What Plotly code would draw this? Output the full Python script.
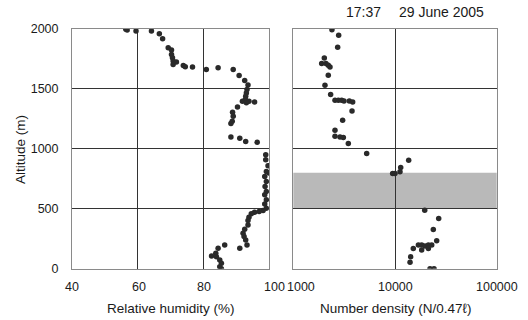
import math
import plotly.graph_objects as go

# Left panel: relative humidity (%) vs altitude (m)
rh_values = [56.4, 56.8, 59.5, 64.2, 66.6, 67.6, 69.3, 70.3, 70.3, 70.6, 70.8, 71.8, 70.8,
             73.9, 74.5, 76.7, 80.9, 84.5, 89.1, 90.9, 92.6, 93.6, 93.3, 93.1, 92.9, 92.8,
             91.9, 93.9, 95.6, 93.1, 90.4, 88.9, 89.1, 88.8, 88.4, 88.4, 91.1, 92.9, 96.4,
             99.0, 99.0, 99.7, 99.2, 100.0, 98.7, 99.2, 98.8, 99.2, 98.7, 99.2, 98.7, 99.2,
             98.2, 97.0, 95.6, 94.6, 93.9, 93.6, 93.6, 92.6, 92.1, 92.4, 92.9, 93.3, 91.1,
             86.5, 84.5, 83.8, 82.5, 84.0, 85.0, 85.5, 85.0, 85.5]
rh_altitude = [1995, 1989, 1981, 1981, 1958, 1917, 1842, 1822, 1786, 1758, 1730, 1722, 1702,
               1694, 1683, 1680, 1660, 1674, 1660, 1610, 1568, 1530, 1493, 1465, 1437, 1410,
               1396, 1396, 1390, 1382, 1348, 1304, 1270, 1229, 1209, 1098, 1087, 1061, 1053,
               950, 908, 858, 811, 797, 769, 727, 685, 644, 616, 574, 540, 504,
               485, 476, 471, 457, 429, 401, 365, 329, 295, 268, 240, 198, 170,
               198, 170, 128, 106, 100, 72, 45, 17, 0]

# Right panel: number density (N/0.47 l) vs altitude (m)
nd_values = [2399, 2793, 2730, 2018, 1901, 2094, 2208, 2296, 2208, 2048, 2329, 2570, 2773,
             2989, 3150, 3554, 3835, 3779, 3055, 2570, 2570, 2878, 3105, 3475, 5265, 9480,
             10000, 11200, 11380, 13630, 19600, 26900, 23800, 25700, 15130, 16980, 18290,
             19720, 21300, 22970, 18290, 21290, 14260, 14060, 22100, 24200]
nd_altitude = [1992, 1945, 1845, 1756, 1709, 1709, 1695, 1681, 1612, 1528, 1451, 1404, 1404,
               1404, 1398, 1398, 1390, 1315, 1237, 1154, 1104, 1098, 1093, 1043, 960, 793,
               793, 807, 843, 904, 488, 419, 327, 233, 169, 197, 197,
               189, 197, 197, 155, 169, 100, 53, 0, 0]

altitude_ticks = [0, 500, 1000, 1500, 2000]
rh_ticks = [40, 60, 80, 100]
rh_tick_labels = ["40", "60", "80", "100"]
nd_ticks = [1000, 10000, 100000]
nd_tick_labels = ["1000", "10000", "100000"]
band_range = [500, 800]
title_time = "17:37"
title_date = "29 June 2005"
x1_title = "Relative humidity (%)"
x2_title = "Number density (N/0.47\u2113)"
y_title = "Altitude (m)"

W, H = 528, 320
def fx(px):
    return px / W
def fy(py):
    return (H - py) / H

fig = go.Figure()
marker = dict(color="#2a2a2a", size=5.5)
fig.add_trace(go.Scatter(x=rh_values, y=rh_altitude, mode="markers", marker=marker,
                         xaxis="x", yaxis="y", showlegend=False))
fig.add_trace(go.Scatter(x=nd_values, y=nd_altitude, mode="markers", marker=marker,
                         xaxis="x2", yaxis="y2", showlegend=False))

txt = "#1a1a1a"
font = dict(family="Liberation Sans, Arial, sans-serif", size=13, color=txt)
grid = "#333333"
frame = "#8a8a8a"

fig.add_shape(type="rect", xref="x2 domain", yref="y2", x0=0, x1=1,
              y0=band_range[0], y1=band_range[1],
              fillcolor="#b9b9b9", line=dict(width=0), layer="below")

common = dict(showgrid=True, gridcolor=grid, gridwidth=1, zeroline=False,
              showline=True, linecolor=frame, mirror=True, ticks="", automargin=False)
fig.update_layout(
    width=W, height=H,
    margin=dict(l=0, r=0, t=0, b=0),
    paper_bgcolor="white", plot_bgcolor="white",
    font=font,
    xaxis=dict(domain=[fx(72), fx(269)], range=[40, 100], tickvals=rh_ticks,
               showticklabels=False, **common),
    yaxis=dict(domain=[fy(268.7), fy(28.7)], range=[0, 2000], tickvals=altitude_ticks,
               ticklabelstandoff=10, tickfont=dict(size=12.5), **common),
    xaxis2=dict(domain=[fx(293.3), fx(496.7)], type="log", range=[3, 5], anchor="y2",
                tickvals=nd_ticks, showticklabels=False, **common),
    yaxis2=dict(domain=[fy(268.7), fy(28.7)], range=[0, 2000], anchor="x2",
                tickvals=altitude_ticks, showticklabels=False, **common),
)

# x tick labels (as annotations so the crowded 100 / 1000 can be nudged like the original)
shifts1 = [0, 1, 1, 5]
for v, lab, s in zip(rh_ticks, rh_tick_labels, shifts1):
    fig.add_annotation(text=lab, xref="x", yref="paper", x=v, y=fy(287), xshift=s,
                       showarrow=False, font=dict(size=12.5, color=txt),
                       xanchor="center", yanchor="middle")
shifts2 = [8, 0, 0]
for v, lab, s in zip(nd_ticks, nd_tick_labels, shifts2):
    fig.add_annotation(text=lab, xref="x2", yref="paper", x=math.log10(v), y=fy(287), xshift=s,
                       showarrow=False, font=dict(size=12.5, color=txt),
                       xanchor="center", yanchor="middle")

fig.add_annotation(text=x1_title, xref="paper", yref="paper", x=fx(171), y=fy(308),
                   showarrow=False, font=dict(size=13.5, color=txt), xanchor="center", yanchor="middle")
fig.add_annotation(text=x2_title, xref="paper", yref="paper", x=fx(395), y=fy(308),
                   showarrow=False, font=dict(size=13.5, color=txt), xanchor="center", yanchor="middle")
fig.add_annotation(text=y_title, xref="paper", yref="paper", x=fx(20), y=fy(150), textangle=-90,
                   showarrow=False, font=dict(size=13.5, color=txt), xanchor="center", yanchor="middle")
fig.add_annotation(text=title_time, xref="paper", yref="paper", x=fx(363.5), y=fy(12),
                   showarrow=False, font=dict(size=14, color=txt), xanchor="center", yanchor="middle")
fig.add_annotation(text=title_date, xref="paper", yref="paper", x=fx(441.5), y=fy(12),
                   showarrow=False, font=dict(size=14, color=txt), xanchor="center", yanchor="middle")

fig.write_html("out.html")
